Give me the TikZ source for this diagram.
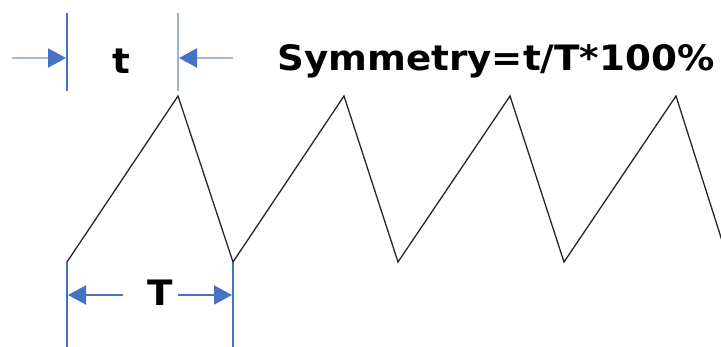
\documentclass[tikz,border=0pt]{standalone}
\usepackage{fontspec}
\setmainfont{DejaVu Sans}
\usetikzlibrary{arrows.meta}
\definecolor{blu}{HTML}{4472C4}
\definecolor{lblu}{HTML}{A7B8D2}
\definecolor{gblu}{HTML}{9FB2CE}
\begin{document}
\begin{tikzpicture}[x=1pt,y=-1pt,
  wave/.style={line width=1.3pt,draw=black!85,line join=miter},
  dimline/.style={line width=2pt,draw=blu},
  tip/.style={-{Triangle[length=18pt,width=19pt,fill=blu,color=blu]}},
  dimarrow/.style={line width=2pt,draw=blu,tip},
  lbl/.style={font=\bfseries\fontsize{35}{40}\selectfont,inner sep=0pt,xscale=1.065}]
\useasboundingbox (0,0) rectangle (721,347);
% waveform points
\coordinate (p0) at (67,262);
\coordinate (p1) at (178,96);
\coordinate (p2) at (233,262);
\coordinate (p3) at (344,96);
\coordinate (p4) at (398,262);
\coordinate (p5) at (510,96);
\coordinate (p6) at (564,262);
\coordinate (p7) at (676,96);
\coordinate (p8) at (724,247);
\draw[wave] (p0) -- (p1) -- (p2) -- (p3) -- (p4) -- (p5) -- (p6) -- (p7) -- (p8);
% t dimension
\coordinate (ta) at (67,13);
\coordinate (tb) at (67,91);
\coordinate (tc) at (178,13);
\coordinate (td) at (178,91);
\draw[dimline] (ta) -- (tb);
\draw[dimline,draw=gblu] (tc) -- (td);
\coordinate (tl0) at (12,58);
\coordinate (tl1) at (66,58);
\coordinate (tr0) at (233,58);
\coordinate (tr1) at (179,58);
\draw[dimarrow,draw=lblu] (tl0) -- (tl1);
\draw[dimarrow,draw=lblu] (tr0) -- (tr1);
\node[lbl] (t) at (121,61) {t};
% T dimension
\coordinate (Ta) at (67,262);
\coordinate (Tb) at (67,347);
\coordinate (Tc) at (233,262);
\coordinate (Td) at (233,347);
\draw[dimline] (Ta) -- (Tb);
\draw[dimline] (Tc) -- (Td);
\node[lbl] (T) at (160,293) {T};
\coordinate (Tl0) at (123,295);
\coordinate (Tl1) at (68,295);
\coordinate (Tr0) at (178,295);
\coordinate (Tr1) at (232,295);
\draw[dimarrow] (Tl0) -- (Tl1);
\draw[dimarrow] (Tr0) -- (Tr1);
% formula
\node[lbl,anchor=west] (sym) at (277,61) {Symmetry=t/T*100\%};
\end{tikzpicture}
\end{document}
